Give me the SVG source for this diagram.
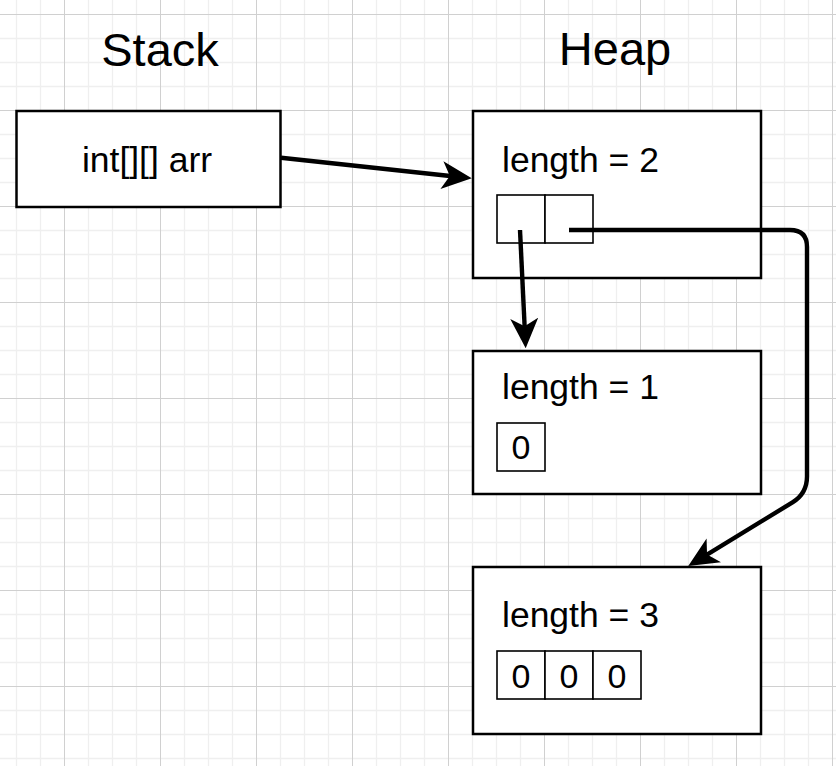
<svg xmlns="http://www.w3.org/2000/svg" width="836" height="766" viewBox="0 0 836 766">
<style>
  .box { fill: #ffffff; stroke: #000000; stroke-width: 2.5; }
  .cell { fill: #ffffff; stroke: #000000; stroke-width: 1.6; }
  .t { font-family: "Liberation Sans", Arial, Helvetica, sans-serif; fill: #000000; }
  .title { font-size: 47px; text-anchor: middle; }
  .lbl { font-size: 35.5px; }
  .num { font-size: 34px; text-anchor: middle; }
  .edge { fill: none; stroke: #000000; stroke-width: 4.4; stroke-linejoin: round; }
</style>
<defs>
  <pattern id="grid" x="64" y="14" width="96" height="96" patternUnits="userSpaceOnUse">
    <path d="M24.5 0V96M48.5 0V96M72.5 0V96M0 24.5H96M0 48.5H96M0 72.5H96" stroke="#efefef" stroke-width="1.3" fill="none"/>
    <path d="M0.5 0V96M0 0.5H96" stroke="#d0d0d0" stroke-width="1" fill="none"/>
  </pattern>
  <marker id="arrow" viewBox="0 0 30 30" refX="20" refY="15" markerWidth="30" markerHeight="30" markerUnits="userSpaceOnUse" orient="auto">
    <path d="M0 1 L30 15 L0 29 L8 15 Z" fill="#000000"/>
  </marker>
</defs>
<rect x="0" y="0" width="836" height="766" fill="#ffffff"/>
<rect x="0" y="0" width="836" height="766" fill="url(#grid)"/>

<g id="title-stack"><text class="t title" x="160" y="66">Stack</text></g>
<g id="title-heap"><text class="t title" x="615" y="65">Heap</text></g>

<g id="stack-arr">
  <rect class="box" x="16.5" y="111" width="264" height="96"/>
  <text class="t lbl" x="147" y="172" text-anchor="middle">int[][] arr</text>
</g>

<g id="heap-outer">
  <rect class="box" x="473" y="111" width="288" height="167"/>
  <text class="t lbl" x="502" y="172">length = 2</text>
  <rect class="cell" x="497" y="195" width="48" height="48"/>
  <rect class="cell" x="545" y="195" width="48" height="48"/>
</g>

<g id="heap-len1">
  <rect class="box" x="473" y="351" width="288" height="143"/>
  <text class="t lbl" x="502" y="399">length = 1</text>
  <rect class="cell" x="497" y="423" width="48" height="48"/>
  <text class="t num" x="521" y="459">0</text>
</g>

<g id="heap-len3">
  <rect class="box" x="473" y="567" width="288" height="167"/>
  <text class="t lbl" x="502" y="627">length = 3</text>
  <rect class="cell" x="497" y="651" width="48" height="48"/>
  <rect class="cell" x="545" y="651" width="48" height="48"/>
  <rect class="cell" x="593" y="651" width="48" height="48"/>
  <text class="t num" x="521" y="688">0</text>
  <text class="t num" x="569" y="688">0</text>
  <text class="t num" x="617" y="688">0</text>
</g>

<g id="connectors">
  <path class="edge" d="M281 157.7 L461.8 177.2" marker-end="url(#arrow)"/>
  <path class="edge" d="M520 230 L525.2 338.3" marker-end="url(#arrow)"/>
  <path class="edge" d="M569 230 L790 230 Q807 230 807 247 L807 476.5 Q807 493.5 792.5 502.4 L696.8 560.8" marker-end="url(#arrow)"/>
</g>
</svg>
